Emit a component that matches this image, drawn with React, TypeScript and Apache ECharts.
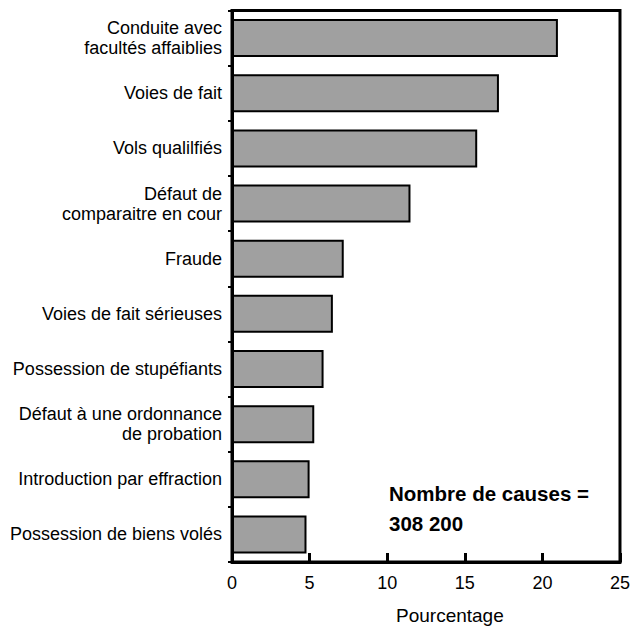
import React, { useEffect, useRef } from "react";
import * as echarts from "echarts";

const categories = [
  "Conduite avec\nfacultés affaiblies",
  "Voies de fait",
  "Vols qualilfiés",
  "Défaut de\ncomparaitre en cour",
  "Fraude",
  "Voies de fait sérieuses",
  "Possession de stupéfiants",
  "Défaut à une ordonnance\nde probation",
  "Introduction par effraction",
  "Possession de biens volés",
];
const values = [21.0, 17.2, 15.8, 11.5, 7.2, 6.5, 5.9, 5.3, 5.0, 4.8];
const xTicks = [0, 5, 10, 15, 20, 25];
const axisTitle = "Pourcentage";
const noteLines = ["Nombre de causes =", "308 200"];

const FONT = "Liberation Sans, Arial, sans-serif";

export default function App() {
  const ref = useRef<HTMLDivElement>(null);
  useEffect(() => {
    if (!ref.current) return;
    const chart = echarts.init(ref.current, null, { renderer: "svg" });
    chart.setOption({
      animation: false,
      backgroundColor: "#fff",
      grid: {
        left: 232,
        right: 12,
        top: 10.5,
        bottom: 65,
        show: true,
        borderColor: "#000",
        borderWidth: 3,
      },
      xAxis: {
        type: "value",
        min: xTicks[0],
        max: xTicks[xTicks.length - 1],
        interval: 5,
        splitLine: { show: false },
        axisLine: { show: true, lineStyle: { color: "#000", width: 3 } },
        axisTick: { show: true, inside: true, length: 9, lineStyle: { color: "#000", width: 3 } },
        axisLabel: { color: "#000", fontSize: 18, fontFamily: FONT, margin: 12 },
      },
      yAxis: {
        type: "category",
        data: categories,
        inverse: true,
        axisLine: { show: true, lineStyle: { color: "#000", width: 3 } },
        axisTick: { show: true, length: 4, lineStyle: { color: "#000", width: 2 } },
        axisLabel: {
          color: "#000",
          fontSize: 18,
          fontFamily: FONT,
          margin: 10,
          lineHeight: 20,
          align: "right",
        },
      },
      series: [
        {
          type: "bar",
          data: values,
          barWidth: 38,
          itemStyle: { color: "#a0a0a0", borderColor: "#000", borderWidth: 2 },
        },
      ],
      graphic: [
        {
          type: "text",
          left: 396,
          top: 606,
          style: { text: axisTitle, fill: "#000", fontSize: 19, fontFamily: FONT },
        },
        {
          type: "text",
          left: 389,
          top: 478,
          style: {
            text: noteLines.join("\n"),
            fill: "#000",
            fontSize: 20.5,
            fontWeight: "bold",
            fontFamily: FONT,
            lineHeight: 30,
          },
        },
      ],
    });
    return () => chart.dispose();
  }, []);
  return <div ref={ref} style={{ width: 633, height: 627, position: "absolute", left: 0, top: 0 }} />;
}
